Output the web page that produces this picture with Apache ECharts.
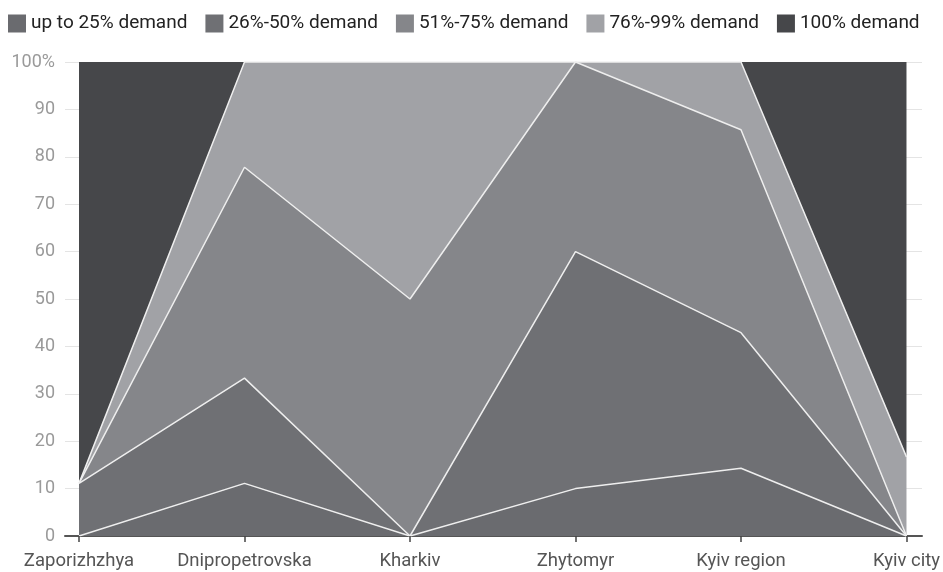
<!DOCTYPE html>
<html>
<head>
<meta charset="utf-8">
<script src="https://cdn.jsdelivr.net/npm/echarts@6/dist/echarts.min.js"></script>
<style>
  html, body { margin: 0; padding: 0; background: #fff; }
  #chart { width: 943px; height: 572px; }
</style>
</head>
<body>
<div id="chart"></div>
<script>
const regions = ['Zaporizhzhya', 'Dnipropetrovska', 'Kharkiv', 'Zhytomyr', 'Kyiv region', 'Kyiv city'];
const seriesNames = ['up to 25% demand', '26%-50% demand', '51%-75% demand', '76%-99% demand', '100% demand'];
const upTo25 = [0, 11.1, 0, 10, 14.3, 0];
const from26to50 = [11.1, 22.2, 0, 50, 28.6, 0];
const from51to75 = [0, 44.5, 50, 40, 42.8, 0];
const from76to99 = [0, 22.2, 50, 0, 14.3, 16.7];
const full = [88.9, 0, 0, 0, 0, 83.3];
const colors = ['#6a6b6f', '#6f7074', '#85868a', '#a1a2a6', '#46474a'];

const values = [upTo25, from26to50, from51to75, from76to99, full];

let chart = echarts.init(document.getElementById('chart'));

chart.setOption({
  animation: false,
  color: colors,
  textStyle: { fontFamily: 'Roboto' },
  legend: {
    top: 9,
    left: 3,
    itemWidth: 18,
    itemHeight: 18,
    itemGap: 18,
    icon: 'rect',
    textStyle: { fontSize: 19, color: '#222' },
    data: seriesNames
  },
  grid: [
    // data area
    { left: 79, right: 36, top: 62, bottom: 36 },
    // wider frame for split lines and axis line
    { left: 65, right: 21, top: 62, bottom: 36 }
  ],
  xAxis: [
    {
      type: 'category',
      gridIndex: 0,
      boundaryGap: false,
      data: regions,
      axisLine: { show: false },
      axisTick: { show: true, alignWithLabel: true, length: 6, lineStyle: { color: '#444', width: 1.5 } },
      axisLabel: { fontSize: 18.5, color: '#555', margin: 16, interval: 0, hideOverlap: false },
      z: 10
    },
    {
      type: 'category',
      gridIndex: 1,
      data: regions,
      axisLine: { show: true, lineStyle: { color: '#555', width: 2 } },
      axisTick: { show: false },
      axisLabel: { show: false }
    }
  ],
  yAxis: [
    {
      type: 'value',
      gridIndex: 0,
      min: 0,
      max: 100,
      interval: 10,
      axisLabel: { show: false },
      axisLine: { show: false },
      axisTick: { show: false },
      splitLine: { show: false }
    },
    {
      type: 'value',
      gridIndex: 1,
      min: 0,
      max: 100,
      interval: 10,
      axisLine: { show: false },
      axisTick: { show: false },
      axisLabel: {
        fontSize: 18,
        color: '#9a9a9a',
        margin: 10,
        formatter: v => (v === 100 ? '100%' : v)
      },
      splitLine: { lineStyle: { color: '#e4e4e4', width: 1 } }
    }
  ],
  series: seriesNames.map((name, i) => ({
    name: name,
    type: 'line',
    stack: 'total',
    xAxisIndex: 0,
    yAxisIndex: 0,
    data: values[i],
    showSymbol: false,
    symbol: 'none',
    lineStyle: { color: '#eeeeee', width: i === 4 ? 0 : 1.5 },
    areaStyle: { color: colors[i], opacity: 1 },
    z: 5 - i
  }))
});
</script>
</body>
</html>
